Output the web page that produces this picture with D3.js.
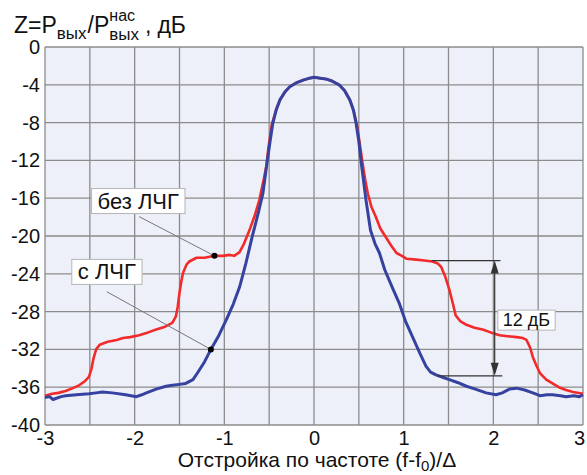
<!DOCTYPE html>
<html><head><meta charset="utf-8">
<script src="https://cdn.jsdelivr.net/npm/d3@7"></script>
<style>body{margin:0;background:#fff}svg{display:block}text{font-family:"Liberation Sans",Arial,sans-serif;fill:#111}</style>
</head><body><svg id="c" width="587" height="475"></svg>
<script>
const xTicks = [-3,-2,-1,0,1,2,3];
const yTicks = [0,-4,-8,-12,-16,-20,-24,-28,-32,-36,-40];
const xGrid = [-3,-2.5,-2,-1.5,-1,-0.5,0,0.5,1,1.5,2,2.5,3];

// без ЛЧГ (red)
const redPoints = [
[-3.00,-36.9],[-2.92,-36.7],[-2.85,-36.6],[-2.77,-36.4],[-2.69,-36.1],[-2.62,-35.8],[-2.56,-35.4],
[-2.51,-34.9],[-2.48,-34.0],[-2.46,-33.0],[-2.43,-32.0],[-2.39,-31.5],[-2.30,-31.2],[-2.20,-31.0],
[-2.13,-30.8],[-2.05,-30.7],[-1.95,-30.5],[-1.85,-30.2],[-1.76,-29.9],[-1.66,-29.6],[-1.58,-29.2],
[-1.54,-28.5],[-1.52,-27.5],[-1.50,-26.0],[-1.48,-24.8],[-1.46,-23.9],[-1.42,-23.0],[-1.39,-22.7],
[-1.31,-22.3],[-1.22,-22.3],[-1.11,-22.1],[-1.02,-22.1],[-0.94,-22.0],[-0.89,-22.1],[-0.83,-21.7],
[-0.78,-20.8],[-0.72,-19.4],[-0.66,-17.8],[-0.61,-16.2],[-0.56,-14.0],[-0.53,-12.5],[-0.51,-10.8],
[-0.47,-8.2],[-0.42,-6.6],[-0.38,-5.6],[-0.32,-4.7],[-0.27,-4.2],[-0.20,-3.8],[-0.12,-3.5],[-0.05,-3.3],
[0.00,-3.2],[0.07,-3.3],[0.14,-3.4],[0.20,-3.6],[0.28,-4.0],[0.34,-4.6],[0.40,-5.6],[0.44,-6.7],
[0.48,-8.3],[0.51,-10.2],[0.54,-12.2],[0.57,-14.0],[0.60,-15.5],[0.64,-16.9],[0.69,-18.0],[0.74,-19.2],
[0.80,-20.1],[0.86,-21.0],[0.92,-21.8],[0.98,-22.1],[1.03,-22.4],[1.14,-22.5],[1.23,-22.6],[1.32,-22.7],
[1.38,-22.9],[1.42,-23.3],[1.46,-24.2],[1.51,-25.7],[1.55,-27.2],[1.58,-28.4],[1.63,-29.0],[1.70,-29.4],
[1.79,-29.7],[1.88,-29.9],[1.97,-30.2],[2.07,-30.5],[2.16,-30.6],[2.26,-30.7],[2.33,-30.8],[2.37,-31.0],
[2.41,-31.8],[2.44,-32.8],[2.48,-33.7],[2.52,-34.5],[2.59,-35.2],[2.66,-35.6],[2.73,-36.0],[2.81,-36.3],
[2.89,-36.5],[3.00,-36.7]
];
// с ЛЧГ (blue)
const bluePoints = [
[-3.00,-37.1],[-2.95,-37.0],[-2.91,-37.3],[-2.88,-37.2],[-2.82,-37.0],[-2.77,-36.9],[-2.65,-36.8],
[-2.51,-36.7],[-2.43,-36.6],[-2.36,-36.5],[-2.25,-36.6],[-2.10,-36.8],[-1.98,-37.0],[-1.92,-36.8],
[-1.87,-36.6],[-1.76,-36.2],[-1.65,-35.9],[-1.58,-35.8],[-1.50,-35.7],[-1.43,-35.6],[-1.35,-35.2],
[-1.30,-34.5],[-1.22,-33.3],[-1.15,-32.0],[-1.06,-30.5],[-0.98,-28.9],[-0.90,-27.2],[-0.83,-25.4],
[-0.76,-22.9],[-0.69,-20.1],[-0.62,-17.5],[-0.57,-15.5],[-0.52,-12.0],[-0.49,-10.0],[-0.46,-8.1],
[-0.42,-6.6],[-0.38,-5.6],[-0.32,-4.7],[-0.27,-4.2],[-0.20,-3.8],[-0.12,-3.5],[-0.05,-3.3],[0.00,-3.2],
[0.07,-3.3],[0.14,-3.4],[0.20,-3.6],[0.28,-4.0],[0.34,-4.6],[0.40,-5.6],[0.44,-6.7],[0.47,-8.1],
[0.50,-10.0],[0.53,-12.5],[0.58,-16.2],[0.63,-19.4],[0.68,-20.8],[0.73,-21.8],[0.79,-23.6],[0.88,-25.6],
[0.95,-27.1],[1.02,-29.0],[1.10,-30.7],[1.18,-32.4],[1.25,-33.8],[1.30,-34.4],[1.36,-34.7],[1.45,-35.0],
[1.51,-35.2],[1.60,-35.5],[1.70,-35.9],[1.80,-36.2],[1.92,-36.6],[2.03,-36.8],[2.10,-36.6],[2.18,-36.2],
[2.26,-36.1],[2.35,-36.3],[2.44,-36.6],[2.52,-36.9],[2.60,-36.8],[2.66,-36.8],[2.75,-36.9],[2.81,-37.0],
[2.90,-36.9],[2.96,-37.0],[3.00,-36.8]
];
const labels = [
  {text:"без ЛЧГ", cx:-1.96, cy:-16.3, lx:-1.95, ly:-17.95, px:-1.11, py:-22.1},
  {text:"с ЛЧГ",   cx:-2.31, cy:-23.8, lx:-2.31, ly:-25.9,  px:-1.15, py:-32.0}
];
const dim = {x:2.015, top:-22.6, bottom:-34.8, topFrom:1.31, topTo:2.08, botFrom:1.38, botTo:2.10, text:"12 дБ", tx:2.37, ty:-28.9};

const svg = d3.select("#c");
const x = d3.scaleLinear().domain([-3,3]).range([45,583]);
const y = d3.scaleLinear().domain([-40,0]).range([425,47]);
const fmt = d => String(d);

svg.append("rect").attr("x",x(-3)).attr("y",y(0)).attr("width",x(3)-x(-3)).attr("height",y(-40)-y(0)).attr("fill","#edf0f9");
const g = svg.append("g");
g.selectAll(".vg").data(xGrid).join("line").attr("x1",d=>x(d)).attr("x2",d=>x(d)).attr("y1",y(0)).attr("y2",y(-40)).attr("stroke","#8c8c8c").attr("stroke-width",1.3);
g.selectAll(".hg").data(yTicks).join("line").attr("y1",d=>y(d)).attr("y2",d=>y(d)).attr("x1",x(-3)).attr("x2",x(3)).attr("stroke","#8c8c8c").attr("stroke-width",1.3);

const ax = svg.append("g").attr("transform",`translate(0,${y(-40)})`).call(d3.axisBottom(x).tickValues(xTicks).tickSize(0).tickPadding(6).tickFormat(fmt));
ax.select(".domain").remove();
ax.selectAll("text").style("font-size","20px").attr("fill","#111").attr("dx",d=>d===3?"-0.2em":null);
const ay = svg.append("g").attr("transform",`translate(${x(-3)},0)`).call(d3.axisLeft(y).tickValues(yTicks).tickSize(0).tickPadding(5).tickFormat(fmt));
ay.select(".domain").remove();
ay.selectAll("text").style("font-size","20px").attr("fill","#111");

const line = d3.line().x(d=>x(d[0])).y(d=>y(d[1]));
svg.append("path").datum(redPoints).attr("d",line).attr("fill","none").attr("stroke","#f22a2a").attr("stroke-width",2.6).attr("stroke-linejoin","round");
svg.append("path").datum(bluePoints).attr("d",line).attr("fill","none").attr("stroke","#3642a0").attr("stroke-width",3).attr("stroke-linejoin","round");

function boxedText(parent, tx, ty, str, size, padX){
  const gg = parent.append("g");
  const r = gg.append("rect").attr("fill","#fff").attr("stroke","#b5b5b5").attr("stroke-width",1);
  const t = gg.append("text").attr("x",tx).attr("y",ty).attr("text-anchor","middle").attr("dominant-baseline","central").style("font-size",size+"px").text(str);
  const b = t.node().getBBox();
  r.attr("x",b.x-padX).attr("y",b.y).attr("width",b.width+2*padX).attr("height",b.height);
}

labels.forEach(l=>{
  svg.append("line").attr("x1",x(l.lx)).attr("y1",y(l.ly)).attr("x2",x(l.px)).attr("y2",y(l.py)).attr("stroke","#777").attr("stroke-width",1);
  boxedText(svg, x(l.cx), y(l.cy), l.text, 22, 6);
  svg.append("circle").attr("cx",x(l.px)).attr("cy",y(l.py)).attr("r",3).attr("fill","#000");
});

// dimension
const dg = svg.append("g").attr("stroke","#333").attr("stroke-width",1.2);
dg.append("line").attr("x1",x(dim.topFrom)).attr("x2",x(dim.topTo)).attr("y1",y(dim.top)).attr("y2",y(dim.top));
dg.append("line").attr("x1",x(dim.botFrom)).attr("x2",x(dim.botTo)).attr("y1",y(dim.bottom)).attr("y2",y(dim.bottom));
dg.append("line").attr("x1",x(dim.x)).attr("x2",x(dim.x)).attr("y1",y(dim.top)+6).attr("y2",y(dim.bottom)-6);
const ax0 = x(dim.x);
svg.append("path").attr("d",`M${ax0},${y(dim.top)} l-4,13 l8,0 z`).attr("fill","#333");
svg.append("path").attr("d",`M${ax0},${y(dim.bottom)} l-4,-13 l8,0 z`).attr("fill","#333");
boxedText(svg, x(dim.tx), y(dim.ty), dim.text, 18, 5);

// axis title
svg.append("text").attr("x",317).attr("y",467).attr("text-anchor","middle").style("font-size","21px")
  .html('Отстройка по частоте (f-f<tspan dy="4" style="font-size:15px">0</tspan><tspan dy="-4">)/Δ</tspan>');

// y title with stacked sub/sup
const tg = svg.append("g");
let cx = 14;
function piece(str, size, base){
  const t = tg.append("text").attr("x",cx).attr("y",base).style("font-size",size+"px").text(str);
  return t.node().getComputedTextLength();
}
cx += piece("Z=P",23,33);
cx += piece("вых",17,39) + 1;
cx += piece("/P",23,33);
const w1 = piece("нас",16,21);
const w2 = piece("вых",17,40);
cx += Math.max(w1,w2) + 6;
cx += piece(",",23,33) + 6;
piece("дБ",23,33);
</script></body></html>
